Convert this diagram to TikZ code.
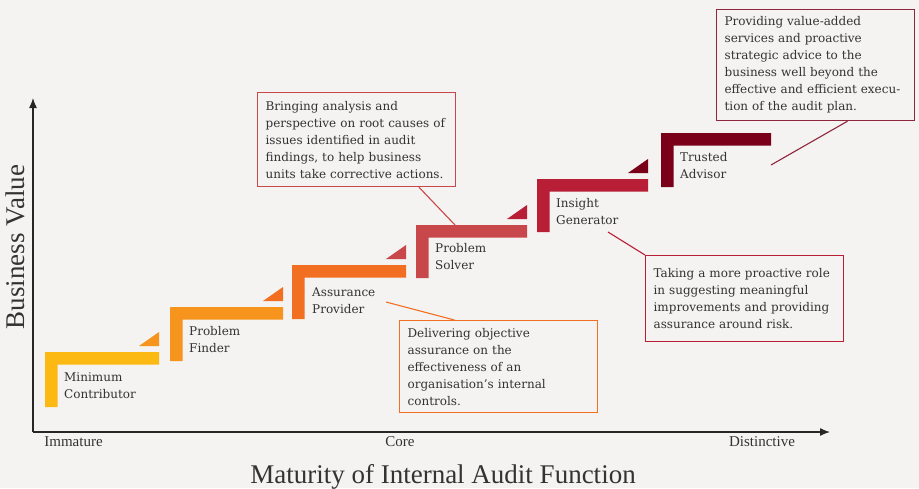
\documentclass[tikz,border=0pt]{standalone}
\usepackage{fontspec}
\setmainfont{DejaVu Serif}
\newfontfamily\axisfont{Liberation Serif}
\usetikzlibrary{arrows.meta,calc}
\definecolor{bg}{HTML}{F4F3F1}
\definecolor{txt}{HTML}{333333}
\definecolor{sone}{HTML}{FDB913}
\definecolor{stwo}{HTML}{F7941D}
\definecolor{sthree}{HTML}{F26F21}
\definecolor{sfour}{HTML}{C8474A}
\definecolor{sfive}{HTML}{B81E35}
\definecolor{ssix}{HTML}{7A0019}
\begin{document}
\begin{tikzpicture}[x=1pt,y=-1pt,
  steplabel/.style={anchor=west,inner sep=0pt,align=left,text=txt,font=\fontsize{12}{17}\selectfont},
  callout/.style={draw=#1,line width=1.2pt,fill=bg,anchor=north west,inner xsep=8pt,inner ysep=0pt,
    text width=182pt,align=left,text=txt,font=\fontsize{12}{17}\selectfont},
  link/.style={draw=#1,line width=1.1pt},
  axisline/.style={draw=black!85,line width=1.3pt,-{Latex[length=10pt,width=8pt]}},
  ticklabel/.style={text=txt,font=\axisfont\fontsize{15}{17}\selectfont,inner sep=0pt},
  axistitle/.style={text=txt,font=\axisfont\fontsize{27}{30}\selectfont,inner sep=0pt}]
\fill[bg] (0,0) rectangle (919,488);
\useasboundingbox (0,0) rectangle (919,488);
% axes
\coordinate (origin) at (33,432);
\coordinate (ytip) at (33,98);
\coordinate (xtip) at (830,432);
\draw[axisline] (origin) -- (ytip);
\draw[axisline] (origin) -- (xtip);
\node[ticklabel] (imm) at (73.5,442) {Immature};
\node[ticklabel] (core) at (400,442) {Core};
\node[ticklabel] (dist) at (762,442) {Distinctive};
\node[axistitle] (xtitle) at (443,477) {Maturity of Internal Audit Function};
\node[axistitle,rotate=90] (ytitle) at (15,247) {Business Value};
% steps
\fill[sone] (45,352) -- (159,352) -- (159,364.5) -- (57.5,364.5) -- (57.5,407) -- (45,407) -- cycle;
\fill[stwo] (170,307) -- (283,307) -- (283,319.5) -- (182.5,319.5) -- (182.5,361) -- (170,361) -- cycle;
\fill[sthree] (292,265) -- (406,265) -- (406,277.5) -- (304.5,277.5) -- (304.5,319) -- (292,319) -- cycle;
\fill[sfour] (416,225) -- (527,225) -- (527,237.5) -- (428.5,237.5) -- (428.5,278) -- (416,278) -- cycle;
\fill[sfive] (537,179) -- (648,179) -- (648,191.5) -- (549.5,191.5) -- (549.5,232) -- (537,232) -- cycle;
\fill[ssix] (661,133) -- (771,133) -- (771,145.5) -- (673.5,145.5) -- (673.5,187) -- (661,187) -- cycle;
% triangles
\fill[stwo] (139,346) -- (159,332) -- (159,346) -- cycle;
\fill[sthree] (263,301) -- (283,287) -- (283,301) -- cycle;
\fill[sfour] (386,259) -- (406,245) -- (406,259) -- cycle;
\fill[sfive] (507,219) -- (527,205) -- (527,219) -- cycle;
\fill[ssix] (628,173) -- (648,159) -- (648,173) -- cycle;
% step labels
\node[steplabel] (l1) at (64,386) {Minimum\\Contributor};
\node[steplabel] (l2) at (189,339.5) {Problem\\Finder};
\node[steplabel] (l3) at (312,300.5) {Assurance\\Provider};
\node[steplabel] (l4) at (435,256.5) {Problem\\Solver};
\node[steplabel] (l5) at (556,211.5) {Insight\\Generator};
\node[steplabel] (l6) at (680,166) {Trusted\\Advisor};
% callouts
\node[callout=sfour,minimum height=94pt] (b1) at (257,92) {Bringing analysis and\\perspective on root causes of\\issues identified in audit\\findings, to help business\\units take corrective actions.};
\node[callout=sthree,minimum height=92pt] (b2) at (399,320) {Delivering objective\\assurance on the\\effectiveness of an\\organisation{\char"27}s internal\\controls.};
\node[callout=sfive,minimum height=86pt] (b3) at (645,255) {Taking a more proactive role\\in suggesting meaningful\\improvements and providing\\assurance around risk.};
\node[callout=ssix!85!white,minimum height=111pt] (b4) at (716,9) {Providing value-added\\services and proactive\\strategic advice to the\\business well beyond the\\effective and efficient execu-\\tion of the audit plan.};
% connector ends
\coordinate (p4) at (455,225);
\coordinate (p3) at (386,302);
\coordinate (p5) at (608,232);
\coordinate (p6) at (771,165);
\draw[link=sfour] ($(b1.south west)!0.813!(b1.south east)$) -- (p4);
\draw[link=sthree] ($(b2.north west)!0.278!(b2.north east)$) -- (p3);
\draw[link=sfive] (b3.north west) -- (p5);
\draw[link=ssix!85!white] ($(b4.south west)!0.66!(b4.south east)$) -- (p6);
\end{tikzpicture}
\end{document}
